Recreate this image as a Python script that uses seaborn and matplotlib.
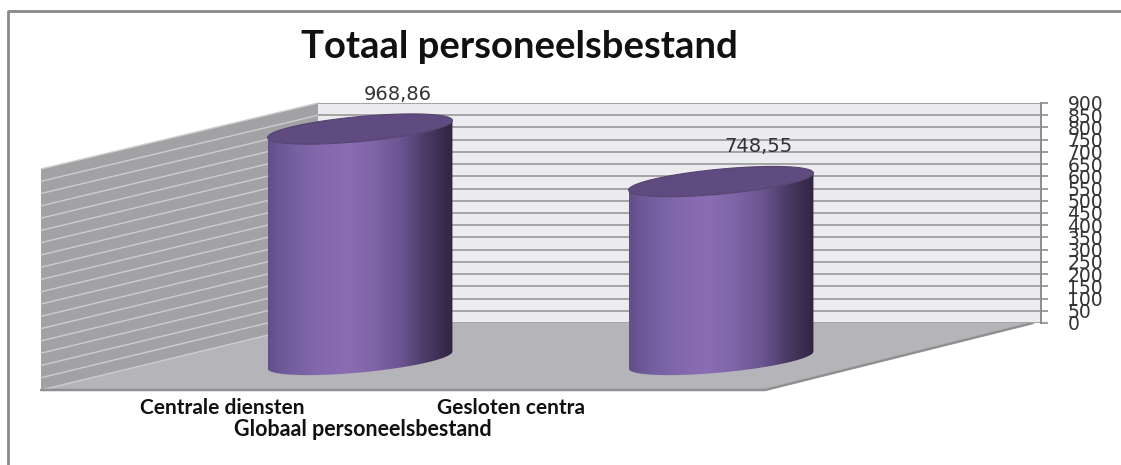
import numpy as np
import matplotlib
matplotlib.use("Agg")
import matplotlib.pyplot as plt
import seaborn as sns
from matplotlib.colors import LinearSegmentedColormap
from matplotlib.patches import Polygon
from matplotlib.transforms import ScaledTranslation

categories = ["Centrale diensten", "Gesloten centra"]
values = [968.86, 748.55]
value_labels = ["968,86", "748,55"]
y_ticks = list(range(0, 901, 50))
title = "Totaal personeelsbestand"
x_title = "Globaal personeelsbestand"

W, H = 1121, 465
sns.set_theme(style="white")
plt.rcParams["font.family"] = ["DejaVu Sans"]

fig = plt.figure(figsize=(W / 100, H / 100), dpi=100)


def box(x0, y0, x1, y1):
    # pixel box (origin top-left) -> figure fraction rect
    return [x0 / W, 1 - y1 / H, (x1 - x0) / W, (y1 - y0) / H]


# decoration layer in pixel coordinates
bg = fig.add_axes([0, 0, 1, 1])
bg.set_xlim(0, W)
bg.set_ylim(H, 0)
bg.axis("off")
bg.plot([8, 8, W + 5], [H + 5, 11, 11], color="#8a8a8a", lw=2)

wall_l, wall_r, wall_top, wall_bot = 318, 1041, 103, 323
side_x, side_top, side_bot = 41, 169, 390
floor_right_front = 765

bg.add_patch(Polygon([(side_x, side_top), (wall_l, wall_top), (wall_l, wall_bot), (side_x, side_bot)],
                     closed=True, fc="#a2a2a5", ec="none"))
for v in y_ticks:
    yl = side_bot - v / 900 * (side_bot - side_top)
    yb = wall_bot - v / 900 * (wall_bot - wall_top)
    bg.plot([side_x, wall_l], [yl, yb], color="#cdcdd0", lw=1)
bg.add_patch(Polygon([(side_x, side_bot), (wall_l, wall_bot), (1033, wall_bot), (floor_right_front, side_bot)],
                     closed=True, fc="#b5b4b9", ec="none"))
bg.plot([side_x, floor_right_front, 1033], [side_bot, side_bot, wall_bot], color="#909093", lw=1.8)

# back wall with value axis
wall = fig.add_axes(box(wall_l, wall_top, wall_r, wall_bot))
wall.set_facecolor("#ecebf0")
wall.set_xlim(0, 1)
wall.set_ylim(0, 900)
wall.set_xticks([])
wall.set_yticks(y_ticks)
wall.yaxis.tick_right()
wall.grid(axis="y", color="#a4a4a4", lw=1.4)
for s in ["top", "left", "bottom"]:
    wall.spines[s].set_visible(False)
wall.spines["right"].set_color("#8c8c8c")
wall.spines["right"].set_linewidth(1.4)
wall.tick_params(axis="y", right=True, length=5, width=1.2, color="#8c8c8c",
                 pad=14, labelsize=13.5, labelcolor="#333333")

# front layer with the cylinders
k = 0.2384  # px per unit
base_px = 360
front = fig.add_axes(box(41, 103, 1033, 395))
front.patch.set_visible(False)
sns.barplot(x=categories, y=values, ax=front, width=0.512, color="#8669b0")
sns.despine(ax=front, left=True, bottom=True)

cmap = LinearSegmentedColormap.from_list(
    "cyl", ["#62508a", "#7561a1", "#8468ae", "#8a6db3", "#7e65a7", "#6c5592", "#4a3a66", "#2f2540"])
e = 12.5 / k
t = 8.5 / k
theta = np.linspace(0, 2 * np.pi, 120)
for i, p in enumerate(front.patches):
    x0, w, h = p.get_x(), p.get_width(), p.get_height()
    cx = x0 + w / 2
    p.set_visible(False)
    th_top = np.linspace(np.pi, 2 * np.pi, 60)
    th_bot = th_top[::-1]
    top_x = cx + w / 2 * np.cos(th_top)
    top_y = h + e * np.sin(th_top) + t * np.cos(th_top)
    bot_x = cx + w / 2 * np.cos(th_bot)
    bot_y = e * np.sin(th_bot) + t * np.cos(th_bot)
    body = Polygon(np.column_stack([np.r_[top_x, bot_x], np.r_[top_y, bot_y]]),
                   closed=True, fc="none", ec="none")
    front.add_patch(body)
    grad = np.linspace(0, 1, 256).reshape(1, -1)
    im = front.imshow(grad, cmap=cmap, aspect="auto",
                      extent=[x0, x0 + w, -e - t, h + e + t], zorder=3)
    im.set_clip_path(body)
    cap = Polygon(np.column_stack([cx + w / 2 * np.cos(theta),
                                   h + e * np.sin(theta) + t * np.cos(theta)]),
                  closed=True, fc="#5f4b7f", ec="#55436f", lw=0.8, zorder=4)
    front.add_patch(cap)
    front.annotate(value_labels[i], (cx, h), xytext=(27, 25), textcoords="offset points",
                   ha="center", va="center", fontsize=14, color="#333333")

front.set_xlim(-(360 - 41) / 361, 1 + (1033 - 721) / 361)
front.set_ylim(-(395 - base_px) / k, (base_px - 103) / k)
front.set_yticks([])
front.set_ylabel("")
front.set_xticks([0, 1])
front.set_xticklabels(categories, fontsize=15, fontweight="bold", color="#111111",
                      family=["Lato", "DejaVu Sans"])
front.tick_params(axis="x", length=0, pad=2)
for lab, dx in zip(front.get_xticklabels(), [-138, -210]):
    lab.set_transform(lab.get_transform() + ScaledTranslation(dx / 100, 0, fig.dpi_scale_trans))
front.set_xlabel(x_title, fontsize=15.5, fontweight="bold", color="#111111",
                 family=["Lato", "DejaVu Sans"])
front.xaxis.set_label_coords((363 - 41) / (1033 - 41), -(419 - 395) / (395 - 103))

fig.text(519 / W, 1 - 47 / H, title, ha="center", va="center", fontsize=27.5,
         fontweight="bold", color="#111111", family=["Lato", "DejaVu Sans"])

fig.savefig("out.png", dpi=100)
